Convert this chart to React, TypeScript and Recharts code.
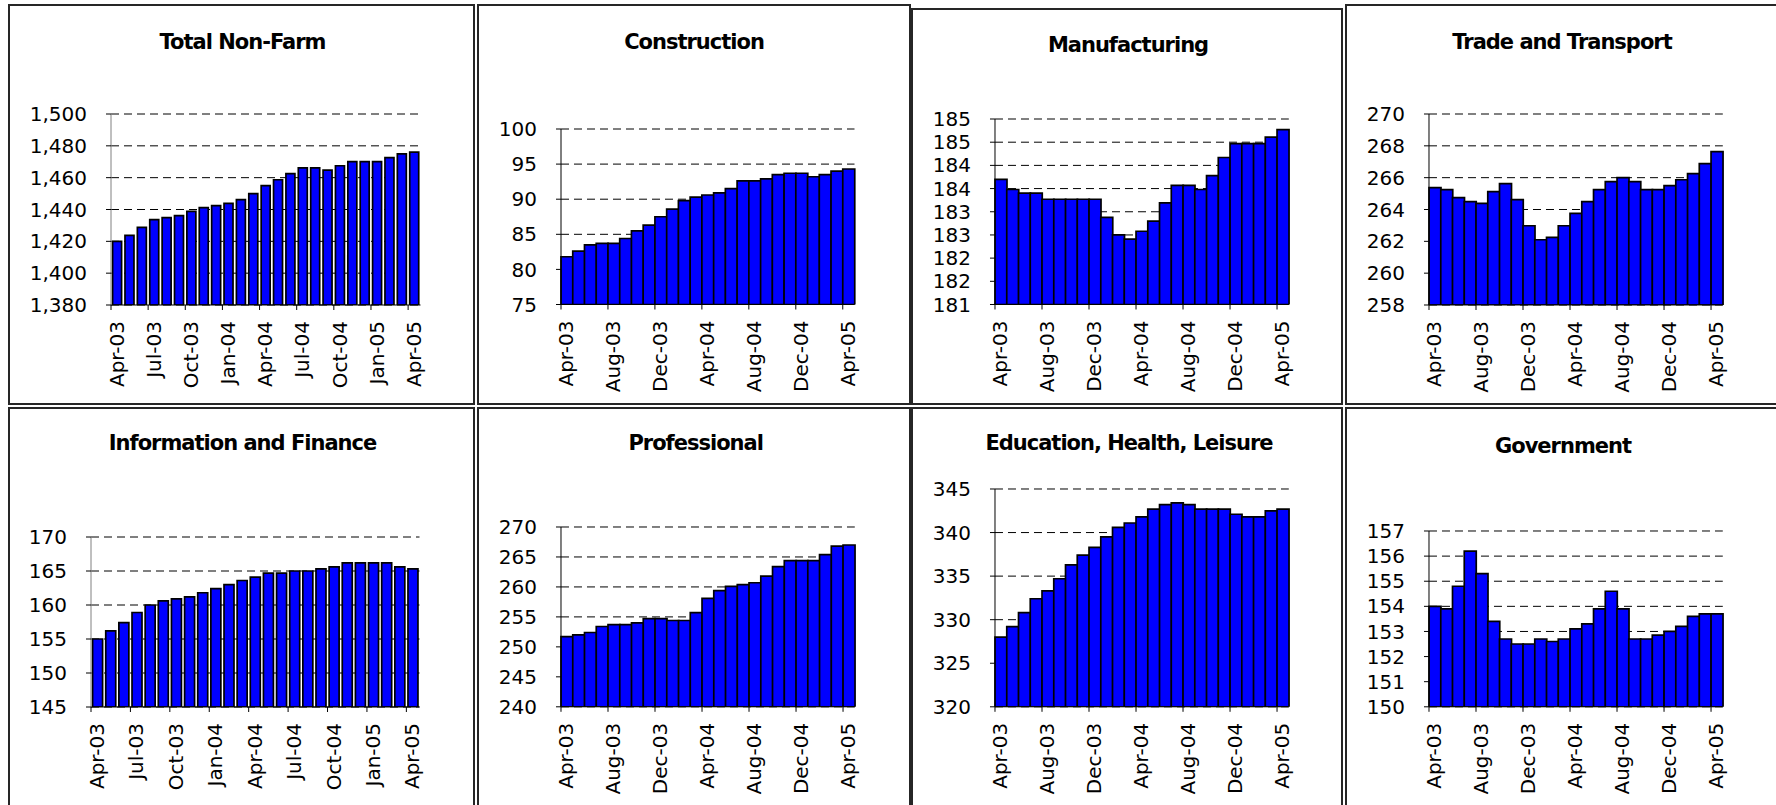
import { BarChart, Bar, XAxis, YAxis, CartesianGrid } from 'recharts'

// months shown on every panel (Apr-03 .. Apr-05)
const months = [
    'Apr-03', 'May-03', 'Jun-03', 'Jul-03', 'Aug-03', 'Sep-03', 'Oct-03', 'Nov-03', 'Dec-03',
    'Jan-04', 'Feb-04', 'Mar-04', 'Apr-04', 'May-04', 'Jun-04', 'Jul-04', 'Aug-04', 'Sep-04',
    'Oct-04', 'Nov-04', 'Dec-04', 'Jan-05', 'Feb-05', 'Mar-05', 'Apr-05',
]

const totalNonFarm = [1420.0, 1423.8, 1428.8, 1433.6, 1434.9, 1436.1, 1438.8, 1441.2, 1442.4, 1443.9, 1446.2, 1450.0, 1455.0, 1458.7, 1462.5, 1466.1, 1466.1, 1464.8, 1467.5, 1470.1, 1470.1, 1470.1, 1472.6, 1474.9, 1476.1]
const construction = [81.8, 82.6, 83.5, 83.7, 83.7, 84.4, 85.5, 86.3, 87.5, 88.6, 89.8, 90.3, 90.6, 90.9, 91.5, 92.6, 92.6, 92.9, 93.5, 93.7, 93.7, 93.2, 93.5, 94.0, 94.3]
const manufacturing = [183.7, 183.48, 183.4, 183.4, 183.27, 183.27, 183.27, 183.27, 183.27, 182.88, 182.5, 182.41, 182.58, 182.8, 183.19, 183.57, 183.57, 183.48, 183.78, 184.17, 184.47, 184.47, 184.47, 184.61, 184.77]
const tradeTransport = [265.37, 265.25, 264.74, 264.49, 264.39, 265.12, 265.62, 264.62, 262.98, 262.1, 262.25, 262.98, 263.76, 264.49, 265.25, 265.75, 266.0, 265.75, 265.25, 265.25, 265.5, 265.87, 266.25, 266.88, 267.63]
const infoFinance = [155.0, 156.2, 157.4, 158.9, 160.0, 160.6, 160.9, 161.2, 161.8, 162.4, 163.0, 163.6, 164.1, 164.7, 164.7, 165.0, 165.0, 165.3, 165.6, 166.2, 166.2, 166.2, 166.2, 165.6, 165.3]
const professional = [251.7, 252.0, 252.4, 253.4, 253.7, 253.7, 254.0, 254.7, 254.7, 254.4, 254.4, 255.7, 258.1, 259.4, 260.1, 260.4, 260.7, 261.8, 263.4, 264.4, 264.4, 264.4, 265.4, 266.8, 267.0]
const education = [328.0, 329.2, 330.8, 332.4, 333.3, 334.7, 336.3, 337.4, 338.3, 339.5, 340.6, 341.1, 341.8, 342.7, 343.2, 343.4, 343.2, 342.7, 342.7, 342.7, 342.1, 341.8, 341.8, 342.5, 342.7]
const government = [154.0, 153.9, 154.8, 156.2, 155.3, 153.4, 152.7, 152.5, 152.5, 152.7, 152.6, 152.7, 153.1, 153.3, 153.9, 154.6, 153.9, 152.7, 152.7, 152.85, 153.0, 153.2, 153.6, 153.7, 153.7]

const ticksTotal = [1380, 1400, 1420, 1440, 1460, 1480, 1500]
const ticksConstruction = [75, 80, 85, 90, 95, 100]
const ticksManufacturing = [181, 181.5, 182, 182.5, 183, 183.5, 184, 184.5, 185]
const ticksTrade = [258, 260, 262, 264, 266, 268, 270]
const ticksInfo = [145, 150, 155, 160, 165, 170]
const ticksProfessional = [240, 245, 250, 255, 260, 265, 270]
const ticksEducation = [320, 325, 330, 335, 340, 345]
const ticksGovernment = [150, 151, 152, 153, 154, 155, 156, 157]

const FONT = '"DejaVu Sans", Verdana, sans-serif'
const PAD_L = 100
const PAD_T = 24
const PAD_R = 10
const PAD_B = 100

const plain = (v: number) => String(v)
const comma = (v: number) => v.toLocaleString('en-US')
const rounded = (v: number) => String(Math.round(v))

interface PanelCfg {
    title: string
    values: number[]
    ticks: number[]
    fmt: (v: number) => string
    interval: number
    plot: { x0: number; y0: number; x1: number; y1: number }
    titleAt: { x: number; y: number }
    gap: number
    axisColor: string
}

const panels: PanelCfg[] = [
    { title: 'Total Non-Farm', values: totalNonFarm, ticks: ticksTotal, fmt: comma, interval: 2, plot: { x0: 110.5, y0: 113.5, x1: 420, y1: 304.5 }, titleAt: { x: 242.5, y: 41.7 }, gap: 1.6, axisColor: '#808080' },
    { title: 'Construction', values: construction, ticks: ticksConstruction, fmt: plain, interval: 3, plot: { x0: 560.5, y0: 129, x1: 854, y1: 304.5 }, titleAt: { x: 694, y: 41.7 }, gap: 0, axisColor: '#000' },
    { title: 'Manufacturing', values: manufacturing, ticks: ticksManufacturing, fmt: rounded, interval: 3, plot: { x0: 994.5, y0: 119, x1: 1288.3, y1: 304.5 }, titleAt: { x: 1128, y: 45 }, gap: 0, axisColor: '#000' },
    { title: 'Trade and Transport', values: tradeTransport, ticks: ticksTrade, fmt: plain, interval: 3, plot: { x0: 1428.5, y0: 113.5, x1: 1722.3, y1: 304.5 }, titleAt: { x: 1562, y: 41.7 }, gap: 0, axisColor: '#000' },
    { title: 'Information and Finance', values: infoFinance, ticks: ticksInfo, fmt: plain, interval: 2, plot: { x0: 90.5, y0: 536.5, x1: 419, y1: 706.5 }, titleAt: { x: 242.5, y: 443.3 }, gap: 1.6, axisColor: '#808080' },
    { title: 'Professional', values: professional, ticks: ticksProfessional, fmt: plain, interval: 3, plot: { x0: 560.5, y0: 526.7, x1: 854.3, y1: 706.5 }, titleAt: { x: 695.7, y: 443 }, gap: 0, axisColor: '#000' },
    { title: 'Education, Health, Leisure', values: education, ticks: ticksEducation, fmt: plain, interval: 3, plot: { x0: 994.5, y0: 488.7, x1: 1288.3, y1: 706.5 }, titleAt: { x: 1129, y: 442.5 }, gap: 0, axisColor: '#000' },
    { title: 'Government', values: government, ticks: ticksGovernment, fmt: plain, interval: 3, plot: { x0: 1428.5, y0: 530.7, x1: 1722.3, y1: 706.5 }, titleAt: { x: 1563, y: 446 }, gap: 0, axisColor: '#000' },
]

// frames drawn around each small chart
const boxes = [
    { left: 8, top: 4, width: 467, height: 400.5 },
    { left: 476.5, top: 4, width: 434, height: 400.5 },
    { left: 911, top: 8, width: 431.5, height: 396.5 },
    { left: 1345, top: 4, width: 440, height: 400.5 },
    { left: 8, top: 406.5, width: 467, height: 420 },
    { left: 476.5, top: 406.5, width: 434, height: 420 },
    { left: 911, top: 406.5, width: 431.5, height: 420 },
    { left: 1345, top: 406.5, width: 440, height: 420 },
]

// tick at the left edge of the month, label rotated under it
function MonthTick(props: any) {
    const { x, payload, band, axisY } = props
    const left = x - band / 2
    const tx = x + 6.5
    const ty = axisY + 16
    return (
        <g>
            <line x1={left} x2={left} y1={axisY} y2={axisY + 5} stroke="#000" />
            <text x={tx} y={ty} transform={`rotate(-90, ${tx}, ${ty})`} textAnchor="end"
                fontSize={20} fontFamily={FONT} fill="#000">
                {payload.value}
            </text>
        </g>
    )
}

function Panel({ cfg }: { cfg: PanelCfg }) {
    const { x0, y0, x1, y1 } = cfg.plot
    const w = x1 - x0 + PAD_L + PAD_R
    const h = y1 - y0 + PAD_T + PAD_B
    const band = (x1 - x0) / months.length
    const axisY = PAD_T + (y1 - y0)
    const data = months.map((m, i) => ({ month: m, value: cfg.values[i] }))
    const domain: [number, number] = [cfg.ticks[0], cfg.ticks[cfg.ticks.length - 1]]

    return (
        <div style={{ position: 'absolute', left: x0 - PAD_L, top: y0 - PAD_T }}>
            <BarChart width={w} height={h} data={data}
                margin={{ top: PAD_T, right: PAD_R, left: 0, bottom: 0 }}
                barCategoryGap={cfg.gap}>
                <CartesianGrid vertical={false} stroke="#000" strokeDasharray="8 5" />
                <XAxis dataKey="month" interval={cfg.interval} height={PAD_B}
                    axisLine={{ stroke: '#000' }} tickLine={false}
                    tick={<MonthTick band={band} axisY={axisY} />} />
                <YAxis type="number" domain={domain} ticks={cfg.ticks} allowDataOverflow interval={0}
                    width={PAD_L} tickFormatter={cfg.fmt} tickSize={5} tickMargin={19}
                    axisLine={{ stroke: cfg.axisColor }} tickLine={{ stroke: '#000' }}
                    tick={{ fontSize: 20, fill: '#000', fontFamily: FONT }} />
                <Bar dataKey="value" fill="#0000FF" stroke="#000" strokeWidth={1.7}
                    isAnimationActive={false} />
            </BarChart>
        </div>
    )
}

export default function App() {
    return (
        <div style={{ position: 'absolute', left: 0, top: 0, width: 1776, height: 805, overflow: 'hidden', background: '#fff', fontFamily: FONT }}>
            {boxes.map((b, i) => (
                <div key={`box-${i}`} style={{ position: 'absolute', ...b, border: '2px solid #262626', boxSizing: 'border-box' }} />
            ))}
            {panels.map(p => (
                <div key={`t-${p.title}`} style={{
                    position: 'absolute', left: p.titleAt.x, top: p.titleAt.y, transform: 'translate(-50%, -50%)',
                    fontSize: 21, fontWeight: 'bold', letterSpacing: -1, lineHeight: 1, whiteSpace: 'nowrap', color: '#000',
                }}>
                    {p.title}
                </div>
            ))}
            {panels.map(p => <Panel key={p.title} cfg={p} />)}
        </div>
    )
}
